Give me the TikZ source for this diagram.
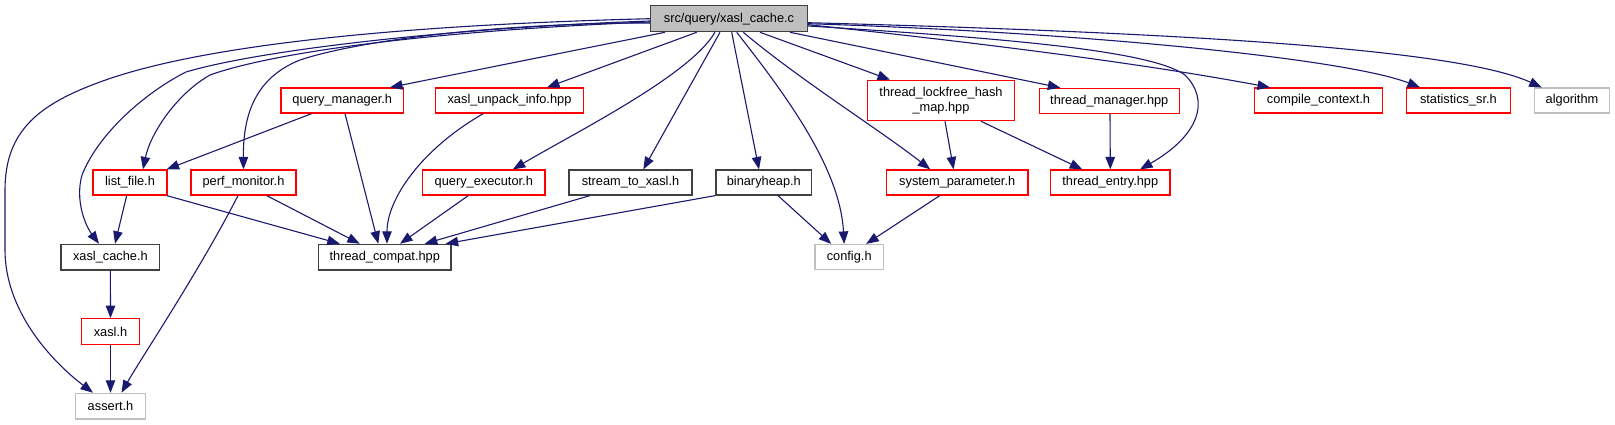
\documentclass[tikz,border=0pt]{standalone}
\usepackage{fontspec}
\setmainfont{Liberation Sans}
\usetikzlibrary{arrows.meta}
\definecolor{edgeblue}{RGB}{25,25,112}
\definecolor{boxgrey}{RGB}{191,191,191}
\definecolor{boxdark}{RGB}{64,64,64}
\definecolor{boxred}{RGB}{255,0,0}
\begin{document}
\begin{tikzpicture}[x=1pt,y=-1pt,
  base/.style={rectangle, inner sep=0pt, line width=1.2pt, font=\fontsize{12.8}{15}\selectfont, minimum height=25pt},
  redbox/.style={base, draw=boxred},
  blackbox/.style={base, draw=boxdark},
  greybox/.style={base, draw=boxgrey},
  rootbox/.style={base, draw=boxdark, fill=boxgrey},
  dep/.style={draw=edgeblue, line width=1.1pt, -{Triangle[length=12.5pt,width=9.5pt]}}
]
\useasboundingbox (0,0) rectangle (1615,425);
% nodes
\node[rootbox, minimum width=157pt, minimum height=26pt] (root) at (729,18.7) {src/query/xasl\_cache.c};
\node[redbox, minimum width=122.6pt] (qm) at (342.3,100.5) {query\_manager.h};
\node[redbox, minimum width=148pt] (xui) at (509.5,100.5) {xasl\_unpack\_info.hpp};
\node[redbox, minimum width=147pt, minimum height=40.4pt, align=center] (tlf) at (941,100.5) {thread\_lockfree\_hash\\\_map.hpp};
\node[redbox, minimum width=140pt] (tm) at (1109.3,100.8) {thread\_manager.hpp};
\node[redbox, minimum width=128.5pt] (cc) at (1318.5,100.5) {compile\_context.h};
\node[redbox, minimum width=104pt] (ss) at (1458.4,100.5) {statistics\_sr.h};
\node[greybox, minimum width=75.4pt] (alg) at (1572,100.5) {algorithm};
\node[redbox, minimum width=74pt] (lf) at (130,182.5) {list\_file.h};
\node[redbox, minimum width=105pt] (pm) at (243.5,182.5) {perf\_monitor.h};
\node[redbox, minimum width=122.3pt] (qe) at (483.8,182.5) {query\_executor.h};
\node[blackbox, minimum width=123pt] (stx) at (630.5,182.5) {stream\_to\_xasl.h};
\node[blackbox, minimum width=95.7pt] (bh) at (763.8,182.5) {binaryheap.h};
\node[redbox, minimum width=141.5pt] (sp) at (957.2,182.5) {system\_parameter.h};
\node[redbox, minimum width=119.3pt] (te) at (1110.3,182.5) {thread\_entry.hpp};
\node[blackbox, minimum width=98.8pt, minimum height=25.7pt] (xc) at (110.4,257.2) {xasl\_cache.h};
\node[blackbox, minimum width=132.5pt, minimum height=25.7pt] (tc) at (384.8,257.2) {thread\_compat.hpp};
\node[greybox, minimum width=68.3pt] (cfg) at (849.2,257) {config.h};
\node[redbox, minimum width=58pt, minimum height=26pt] (xasl) at (110.5,331.7) {xasl.h};
\node[greybox, minimum width=69.5pt, minimum height=25.7pt] (as) at (110.5,406.2) {assert.h};
% edges from root
\draw[dep] ([xshift=-64pt]root.south) -- ([xshift=47.7pt]qm.north);
\draw[dep] ([xshift=-32.3pt]root.south) -- ([xshift=37.5pt]xui.north);
\draw[dep] ([xshift=-14pt]root.south) .. controls (690,75) and (580,130) .. ([xshift=29pt]qe.north);
\draw[dep] ([xshift=-9pt]root.south) -- ([xshift=12.8pt]stx.north);
\draw[dep] ([xshift=2.7pt]root.south) -- ([xshift=-4.8pt]bh.north);
\draw[dep] ([xshift=7.7pt]root.south) .. controls (790,100) and (840,170) .. ([xshift=-5pt]cfg.north);
\draw[dep] ([xshift=14.3pt]root.south) .. controls (800,80) and (880,130) .. ([xshift=-27pt]sp.north);
\draw[dep] ([xshift=31pt]root.south) -- ([xshift=-51pt]tlf.north);
\draw[dep] ([xshift=61pt]root.south) -- ([xshift=-49pt]tm.north);
\draw[dep] ([yshift=-7.3pt]root.east) .. controls (1000,38) and (1150,50) .. (1185,75) .. controls (1210,100) and (1200,135) .. ([xshift=29.7pt]te.north);
\draw[dep] ([yshift=-6pt]root.east) .. controls (1000,45) and (1150,65) .. ([xshift=-48.5pt]cc.north);
\draw[dep] ([yshift=-5pt]root.east) .. controls (1100,33) and (1350,60) .. ([xshift=-38.4pt]ss.north);
\draw[dep] ([yshift=-4pt]root.east) .. controls (1200,33) and (1460,50) .. ([xshift=-30.3pt]alg.north);
\draw[dep] (root.west) .. controls (400,25) and (200,45) .. (100,82) .. controls (40,104) and (5,130) .. (5,190) -- (5,250) .. controls (5,310) and (50,360) .. ([xshift=-17.5pt]as.north);
\draw[dep] ([yshift=-2.3pt]root.west) .. controls (450,28) and (260,50) .. (186,72) .. controls (150,90) and (100,130) .. (82,175) .. controls (75,200) and (85,225) .. ([xshift=-11.4pt]xc.north);
\draw[dep] ([yshift=-3.3pt]root.west) .. controls (450,30) and (280,50) .. (210,75) .. controls (175,95) and (150,135) .. ([xshift=13pt]lf.north);
\draw[dep] ([yshift=-4.3pt]root.west) .. controls (500,23) and (360,40) .. (300,60) .. controls (255,78) and (243,115) .. (pm.north);
% other edges
\draw[dep] ([xshift=-30.6pt]qm.south) -- ([xshift=-1pt]lf.north east);
\draw[dep] ([xshift=2.7pt]qm.south) -- ([xshift=-6.5pt]tc.north);
\draw[dep] ([xshift=-26.2pt]xui.south) .. controls (420,150) and (387,200) .. ([xshift=2.2pt]tc.north);
\draw[dep] ([xshift=-15.5pt]qe.south) -- ([xshift=15.2pt]tc.north);
\draw[dep] ([xshift=-40.5pt]stx.south) -- ([xshift=40pt]tc.north);
\draw[dep] (bh.south west) -- ([xshift=-6pt]tc.north east);
\draw[dep] ([xshift=36.7pt]lf.south) -- ([xshift=-45pt]tc.north);
\draw[dep] ([xshift=23.2pt]pm.south) -- ([xshift=-25pt]tc.north);
\draw[dep] ([xshift=-3.3pt]lf.south) -- ([xshift=4.6pt]xc.north);
\draw[dep] ([xshift=-5.5pt]pm.south) .. controls (200,270) and (140,360) .. ([xshift=11pt]as.north);
\draw[dep] ([xshift=4pt]tlf.south) -- ([xshift=-3.6pt]sp.north);
\draw[dep] ([xshift=40pt]tlf.south) -- ([xshift=-28pt]te.north);
\draw[dep] ([xshift=0.7pt]tm.south) -- (te.north);
\draw[dep] ([xshift=-17.4pt]sp.south) -- ([xshift=17pt]cfg.north);
\draw[dep] ([xshift=14.2pt]bh.south) -- ([xshift=-18pt]cfg.north);
\draw[dep] (xc.south) -- (xasl.north);
\draw[dep] (xasl.south) -- (as.north);
\end{tikzpicture}
\end{document}
